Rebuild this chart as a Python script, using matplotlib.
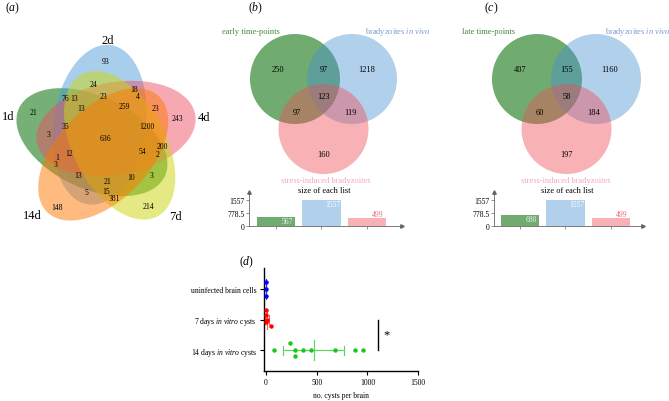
import numpy as np
import matplotlib
matplotlib.use("Agg")
import matplotlib.pyplot as plt
from matplotlib.patches import Ellipse, Circle

plt.rcParams['font.family'] = ['Liberation Serif', 'DejaVu Serif']
plt.rcParams['mathtext.fontset'] = 'custom'
plt.rcParams['mathtext.rm'] = 'Liberation Serif'
plt.rcParams['mathtext.it'] = 'Liberation Serif:italic'

# ---- data ----
# (a) five time points
venn5_names = ['1d', '2d', '4d', '7d', '14d']
venn5_counts = [21, 93, 243, 214, 148, 76, 13, 24, 18, 23, 4, 13, 259, 23, 35,
                1200, 3, 636, 200, 54, 12, 2, 1, 3, 13, 10, 3, 21, 5, 15, 381]

# (b) / (c) region counts: A only, AB, B only, ABC, AC, BC, C only
b_names = ['early time-points', 'bradyzoites $\\mathit{in\\ vivo}$', 'stress-induced bradyzoites']
b_counts = [250, 97, 1218, 123, 97, 119, 160]
b_sizes = [567, 1557, 499]
c_names = ['late time-points', 'bradyzoites $\\mathit{in\\ vivo}$', 'stress-induced bradyzoites']
c_counts = [407, 155, 1160, 58, 60, 184, 197]
c_sizes = [680, 1557, 499]
size_ticks = [0, 778.5, 1557]
size_ticklabels = ['0', '778.5', '1557']

# (d) cysts per brain
groups = ['uninfected brain cells', '7 days $\\mathit{in\\ vitro}$ cysts',
          '14 days $\\mathit{in\\ vitro}$ cysts']
uninfected = [0, 0, 0]
vitro7 = [3, 0, 6, 2, 45]
vitro14 = [82, 240, 286, 286, 362, 441, 681, 881, 960]

# ---- layout (pixel positions in the 669x402 picture) ----
W, H = 669, 402
fig = plt.figure(figsize=(W / 100, H / 100), dpi=100)

# five ellipses, symmetric layout in unit coordinates
ell5 = [(0.428, 0.449, 155.0), (0.469, 0.543, 82.0), (0.558, 0.523, 10.0),
        (0.578, 0.432, 118.0), (0.489, 0.383, 46.0)]
ell5_colors = [((0.14, 0.50, 0.14), 0.62), ((0.30, 0.60, 0.85), 0.48),
               ((0.93, 0.30, 0.38), 0.48), ((0.80, 0.84, 0.08), 0.52),
               ((1.0, 0.47, 0.0), 0.5)]
scale = 185.0
left_px = 106 - 0.504 * scale
top_px = 140 - (1 - 0.466) * scale
ax_a = fig.add_axes([left_px / W, 1 - (top_px + scale) / H, scale / W, scale / H])
ax_a.set_xlim(0, 1)
ax_a.set_ylim(0, 1)
ax_a.axis('off')
for (cx, cy, ang), (col, al) in zip(ell5, ell5_colors):
    ax_a.add_patch(Ellipse((cx, cy), 0.87, 0.50, angle=ang, facecolor=col,
                           alpha=al, edgecolor='none'))

# overlay canvas for venn texts and circles
cv = fig.add_axes([0, 0, 1, 1])
cv.set_xlim(0, W)
cv.set_ylim(H, 0)
cv.axis('off')

venn5_pos = [(33, 113), (106, 62), (177, 119), (148, 207), (57, 208), (65, 99),
             (74, 99), (93, 85), (134, 90), (103, 97), (138, 97), (81, 109),
             (124, 107), (155, 109), (65, 127), (147, 127), (49, 135), (105, 139),
             (162, 147), (142, 152), (69, 154), (158, 155), (57, 158), (56, 165),
             (78, 176), (131, 178), (152, 176), (108, 182), (86, 193), (106, 192),
             (114, 199)]
for n, (x, y) in zip(venn5_counts, venn5_pos):
    cv.text(x, y, str(n), fontsize=5.5, ha='center', va='center')
venn5_label_pos = [(8, 117), (108, 41), (204, 118), (175, 217), (32, 216)]
for name, (x, y) in zip(venn5_names, venn5_label_pos):
    cv.text(x, y, name, fontsize=9, ha='center', va='center')

# three-circle venns
circ_colors = [((0.14, 0.50, 0.14), 0.65), ((0.28, 0.56, 0.83), 0.42),
               ((0.94, 0.30, 0.34), 0.43)]
name_colors = ['#3d8b3d', '#7a9ad2', '#f4a6c0']


def venn3(cx, cy, r, dx, dy, names, counts, name_pos):
    centers = [(cx - dx, cy), (cx + dx, cy), (cx, cy + dy)]
    for (x, y), (col, al) in zip(centers, circ_colors):
        cv.add_patch(Circle((x, y), r, facecolor=col, alpha=al, edgecolor='none'))
    pos = [(cx - 46, cy - 10), (cx, cy - 10), (cx + 43, cy - 10), (cx, cy + 17),
           (cx - 27, cy + 33), (cx + 27, cy + 33), (cx, cy + 75)]
    for n, (x, y) in zip(counts, pos):
        cv.text(x, y, str(n), fontsize=6, ha='center', va='center')
    for name, col, (x, y) in zip(names, name_colors, name_pos):
        cv.text(x, y, name, fontsize=6, color=col, ha='center', va='center')
    cv.text(cx + 1, 191.5, 'size of each list', fontsize=6, ha='center', va='center')


venn3(323.5, 80, 45, 28.5, 50, b_names, b_counts, [(251, 32), (397, 32), (326, 181)])
venn3(566.5, 80, 45, 29.5, 50, c_names, c_counts, [(489, 32), (637, 32), (566, 181)])

bar_colors = [(0.14, 0.50, 0.14, 0.65), (0.28, 0.56, 0.83, 0.42),
              (0.94, 0.30, 0.34, 0.43)]
label_colors = ['#eef6ee', 'white', '#f06878']
label_va = ['top', 'top', 'bottom']


def size_bars(x_axis, x_end, x_first, sizes):
    step = 45.4
    ax = fig.add_axes([x_axis / W, 1 - 227 / H, (x_end - x_axis) / W, 34 / H])
    ax.patch.set_visible(False)
    ax.bar(range(3), sizes, width=0.85, color=bar_colors)
    ax.set_xlim((x_axis - x_first) / step, (x_end - x_first) / step)
    ax.set_ylim(0, 1557 * 34 / 26)
    for s in ['top', 'right']:
        ax.spines[s].set_visible(False)
    for s in ['left', 'bottom']:
        ax.spines[s].set_color('#666666')
        ax.spines[s].set_linewidth(0.6)
    ax.plot(1, 0, '>', color='#666666', ms=2.5, transform=ax.transAxes, clip_on=False)
    ax.plot(0, 1, '^', color='#666666', ms=2.5, transform=ax.transAxes, clip_on=False)
    ax.set_yticks(size_ticks)
    ax.set_yticklabels(size_ticklabels)
    ax.set_xticks(range(3))
    ax.set_xticklabels([])
    ax.tick_params(length=2, width=0.5, color='#666666', labelsize=5.5, pad=1)
    for i, v in enumerate(sizes):
        ax.text(i + 0.25, v, str(v), fontsize=5.5, color=label_colors[i],
                ha='center', va=label_va[i])
    return ax


size_bars(249, 402, 276, b_sizes)
size_bars(494, 643, 520, c_sizes)

for lab, (x, y) in zip(['a', 'b', 'c', 'd'], [(13, 8), (256, 8), (491, 8), (247, 262)]):
    cv.text(x, y, '($\\mathit{%s}$)' % lab, fontsize=8.5, ha='center', va='center')

# (d) scatter with mean and SD
ax_d = fig.add_axes([264 / W, 1 - 372 / H, (418 - 264) / W, (372 - 269) / H])
ax_d.patch.set_visible(False)
data = [uninfected, vitro7, vitro14]
offsets = [[-0.23, 0, 0.23], [-0.30, -0.14, 0, 0.08, 0.22],
           [0, -0.23, 0, 0.2, 0, 0, 0, 0, 0]]
dot_colors = ['#0000ff', '#ff0000', '#19c819']
bar_line_colors = ['#3333ff', '#ff5555', '#55d855']
for i, (vals, off) in enumerate(zip(data, offsets)):
    vals = np.array(vals, dtype=float)
    ax_d.plot(vals, i + np.array(off), 'o', color=dot_colors[i], ms=3.2, mec='none',
              clip_on=False, zorder=3)
    m = vals.mean()
    sd = vals.std(ddof=1)
    c = bar_line_colors[i]
    ax_d.plot([m - sd, m + sd], [i, i], color=c, lw=0.8, zorder=2)
    ax_d.plot([m, m], [i - 0.32, i + 0.32], color=c, lw=0.8, zorder=2)
    for e in (m - sd, m + sd):
        ax_d.plot([e, e], [i - 0.15, i + 0.15], color=c, lw=0.8, zorder=2)

ax_d.plot([1110, 1110], [1, 2], color='black', lw=1)
ax_d.text(1190, 1.5, '*', fontsize=9, ha='center', va='center')
ax_d.set_xlim(-20, 1500)
ax_d.set_ylim(2.68, -0.68)
ax_d.set_yticks(range(3))
ax_d.set_yticklabels(groups)
ax_d.set_xticks([0, 500, 1000, 1500])
ax_d.set_xlabel('no. cysts per brain', fontsize=5.5, labelpad=4)
for s in ['top', 'right']:
    ax_d.spines[s].set_visible(False)
for s in ['left', 'bottom']:
    ax_d.spines[s].set_linewidth(1.0)
ax_d.tick_params(length=3, width=0.8, labelsize=5.5, pad=2)

fig.savefig('out.png', dpi=100)
